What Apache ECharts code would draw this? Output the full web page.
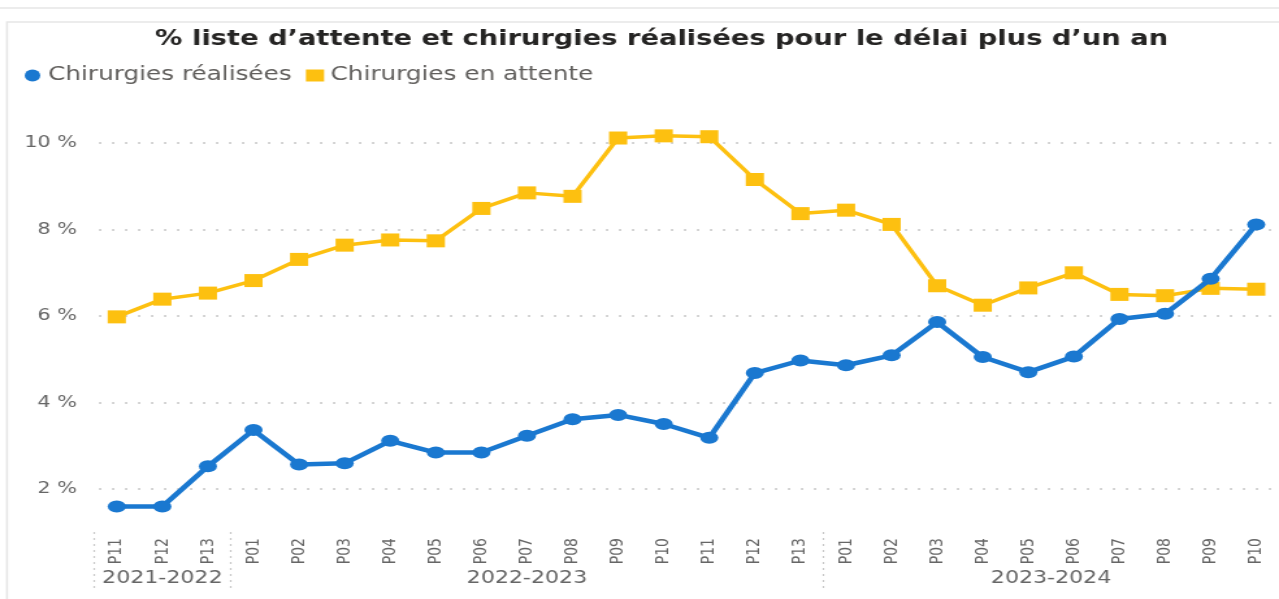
<!DOCTYPE html>
<html>
<head>
<meta charset="utf-8">
<script src="https://cdn.jsdelivr.net/npm/echarts@6/dist/echarts.min.js"></script>
<style>
html,body{margin:0;padding:0;background:#fff;overflow:hidden;width:1279px;height:599px;}
#main{width:984px;height:599px;transform:scaleX(1.29980);transform-origin:0 0;}
</style>
</head>
<body>
<div id="main"></div>
<script>
const categories = ['P11','P12','P13','P01','P02','P03','P04','P05','P06','P07','P08','P09','P10','P11','P12','P13','P01','P02','P03','P04','P05','P06','P07','P08','P09','P10'];
const groupNames = ['2021-2022','2022-2023','2023-2024'];
const groupSizes = [3, 13, 10];
const realisees = [1.59,1.59,2.52,3.36,2.56,2.59,3.11,2.84,2.84,3.23,3.61,3.71,3.50,3.18,4.68,4.97,4.86,5.09,5.86,5.05,4.70,5.06,5.93,6.05,6.86,8.12];
const enAttente = [5.98,6.39,6.53,6.82,7.31,7.64,7.76,7.74,8.49,8.85,8.77,10.12,10.17,10.15,9.16,8.37,8.45,8.12,6.70,6.25,6.65,7.00,6.50,6.47,6.64,6.62];
const yTicks = [2,4,6,8,10];

// group boundaries and centers (in category units)
const bounds = [0];
groupSizes.forEach(s => bounds.push(bounds[bounds.length-1] + s));
const centers = groupSizes.map((s,i) => bounds[i] + s/2);

const BLUE = '#1a78d0';
const YELLOW = '#fdc010';
const FONT = 'DejaVu Sans';

const chart = echarts.init(document.getElementById('main'), null, {renderer:'canvas', width:984, height:599});
chart.setOption({
  animation: false,
  backgroundColor: '#fff',
  textStyle: {fontFamily: FONT},
  graphic: [
    {type:'line', shape:{x1:0,y1:8,x2:984,y2:8}, style:{stroke:'#ececec', lineWidth:2}, silent:true},
    {type:'rect', shape:{x:5.4,y:22,width:1000,height:600}, style:{fill:'none', stroke:'#e6e6e6', lineWidth:1.6}, silent:true}
  ],
  title: {
    text: '% liste d\u2019attente et chirurgies réalisées pour le délai plus d\u2019un an',
    left: 504, textAlign: 'center', top: 24,
    textStyle: {fontFamily: FONT, fontWeight: 'bold', fontSize: 21, color: '#252423'}
  },
  legend: {
    left: 14, top: 61, itemGap: 11, itemWidth: 14, itemHeight: 12,
    textStyle: {fontFamily: FONT, fontSize: 19, color: '#605e5c'},
    data: [
      {name:'Chirurgies réalisées', icon:'circle'},
      {name:'Chirurgies en attente', icon:'rect'}
    ]
  },
  grid: {left: 72.3, right: -7.7, top: 100, bottom: 67, containLabel: false},
  xAxis: [
    {
      type: 'category', data: categories, boundaryGap: true,
      axisLine: {show:false}, axisTick: {show:false},
      axisLabel: {rotate: 90, margin: 6, fontSize: 14, color: '#666', fontFamily: FONT, interval: 0}
    },
    {
      type: 'value', min: 0, max: bounds[bounds.length-1], position: 'bottom',
      axisLine: {show:false}, splitLine: {show:false},
      axisTick: {show:true, customValues: bounds.slice(0, bounds.length-1), length: 60, inside:false,
        lineStyle: {color:'#c8c8c8', type:[2,4], width:1.2}},
      axisLabel: {customValues: centers, margin: 38, fontSize: 17, color:'#666', fontFamily: FONT,
        formatter: function(v){ const i = centers.indexOf(v); return i >= 0 ? groupNames[i] : ''; }}
    }
  ],
  yAxis: {
    type: 'value', min: 1, max: 11,
    axisLine: {show:false}, axisTick: {show:false, customValues: yTicks},
    axisLabel: {customValues: yTicks, formatter: '{value} %', fontSize: 16, color:'#666', margin: 13, fontFamily: FONT},
    splitLine: {show:true, lineStyle: {color:'#c8c8c8', type:[1.5,8.5], width:2, dashOffset: -4}}
  },
  series: [
    {
      name: 'Chirurgies réalisées', type: 'line', data: realisees, z: 4,
      symbol: 'circle', symbolSize: [14,12],
      lineStyle: {color: BLUE, width: 4.5}, itemStyle: {color: BLUE}
    },
    {
      name: 'Chirurgies en attente', type: 'line', data: enAttente, z: 3,
      symbol: 'rect', symbolSize: [14,13],
      lineStyle: {color: YELLOW, width: 3.5}, itemStyle: {color: YELLOW}
    }
  ]
});
</script>
</body>
</html>
